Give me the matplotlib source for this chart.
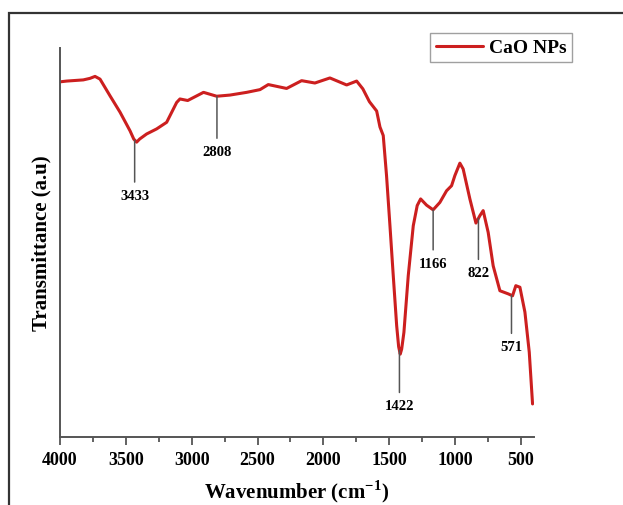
import matplotlib
matplotlib.use("Agg")
import matplotlib.pyplot as plt
from matplotlib.patches import Rectangle
from matplotlib.ticker import MultipleLocator
import numpy as np

# FTIR spectrum (wavenumber, transmittance a.u.)
wavenumber = [4000, 3949, 3823, 3772, 3734, 3696, 3620, 3544, 3468, 3440,
              3418, 3395, 3342, 3266, 3190, 3114, 3089, 3030, 2910, 2810,
              2709, 2582, 2481, 2418, 2279, 2165, 2064, 1950, 1823, 1747,
              1700, 1650, 1595, 1570, 1545, 1520, 1494, 1469, 1443, 1428,
              1416, 1405, 1388, 1355, 1317, 1287, 1261, 1216, 1166, 1115,
              1064, 1026, 1001, 963, 938, 887, 841, 811, 786, 748,
              710, 659, 596, 563, 538, 507, 469, 436, 411]
transmittance = [91.3, 91.5, 91.8, 92.2, 92.7, 92.0, 87.7, 83.5, 78.7, 76.6,
                 75.8, 76.6, 77.9, 79.2, 80.9, 86.0, 86.9, 86.5, 88.6, 87.6,
                 87.9, 88.6, 89.3, 90.6, 89.6, 91.6, 91.0, 92.3, 90.5, 91.5,
                 89.5, 86.2, 83.8, 79.7, 77.5, 67.2, 54.3, 41.5, 28.6, 23.2,
                 21.3, 22.6, 26.9, 41.5, 54.3, 59.5, 61.2, 59.6, 58.4, 60.3,
                 63.3, 64.6, 67.2, 70.4, 68.9, 61.2, 55.0, 56.9, 58.2, 52.6,
                 44.0, 37.6, 36.8, 36.3, 38.9, 38.5, 32.1, 21.8, 8.5]

peaks = [3433, 2808, 1422, 1166, 822, 571]
peak_drop = [45, 45, 45, 43, 44, 41]   # length of marker line, px

red = "#cc1f1f"
font = ["Liberation Serif", "DejaVu Serif"]
plt.rcParams["font.family"] = font
plt.rcParams["font.weight"] = "bold"
plt.rcParams["mathtext.fontset"] = "custom"
plt.rcParams["mathtext.rm"] = "Liberation Serif:bold"
plt.rcParams["mathtext.bf"] = "Liberation Serif:bold"

fig = plt.figure(figsize=(6.23, 5.06), dpi=100)
ax = fig.add_axes([60 / 623, 1 - 438 / 506, 474 / 623, 389 / 506])

ax.plot(wavenumber, transmittance, color=red, lw=2.2, label="CaO NPs",
        solid_joinstyle="round", solid_capstyle="round")

wn_asc = wavenumber[::-1]
tr_asc = transmittance[::-1]
for p, d in zip(peaks, peak_drop):
    yv = np.interp(p, wn_asc, tr_asc)
    ax.annotate(str(p), xy=(p, yv), xytext=(0, -d - 4), textcoords="offset pixels",
                ha="center", va="top", fontsize=10.5, fontweight="bold",
                arrowprops=dict(arrowstyle="-", color="#555555", lw=1.1,
                                shrinkA=3, shrinkB=0))

ax.set_xlim(4000, 400)
ax.set_ylim(0, 100)
ax.xaxis.set_major_locator(MultipleLocator(500))
ax.xaxis.set_minor_locator(MultipleLocator(250))
ax.set_yticks([])
ax.tick_params(axis="x", which="major", direction="out", length=6, width=1.3,
               color="#555555", labelsize=13, pad=4)
ax.tick_params(axis="x", which="minor", direction="out", length=3.5, width=1.3,
               color="#555555")
for lab in ax.get_xticklabels():
    lab.set_fontweight("bold")
for s in ["top", "right"]:
    ax.spines[s].set_visible(False)
for s in ["left", "bottom"]:
    ax.spines[s].set_color("#555555")
    ax.spines[s].set_linewidth(1.4)

ax.set_xlabel("Wavenumber (cm$^{\\mathrm{-1}}$)", fontsize=15, fontweight="bold",
              labelpad=7)
ax.set_ylabel("Transmittance (a.u)", fontsize=15, fontweight="bold", labelpad=6)

leg = ax.legend(loc="upper right", bbox_to_anchor=(572 / 623, 1 - 34 / 506),
                bbox_transform=fig.transFigure, fancybox=False,
                handlelength=2.4, handletextpad=0.3, borderpad=0.3,
                borderaxespad=0, prop={"weight": "bold", "size": 14, "family": font})
leg.get_frame().set_edgecolor("#888888")
leg.get_frame().set_linewidth(1.0)

# outer frame around the figure
fig.patches.append(Rectangle((9 / 623, -0.1), 1.2, 1.1 - 14 / 506,
                             transform=fig.transFigure, fill=False,
                             edgecolor="#333333", lw=1.6))

fig.savefig("out.png", dpi=100)
